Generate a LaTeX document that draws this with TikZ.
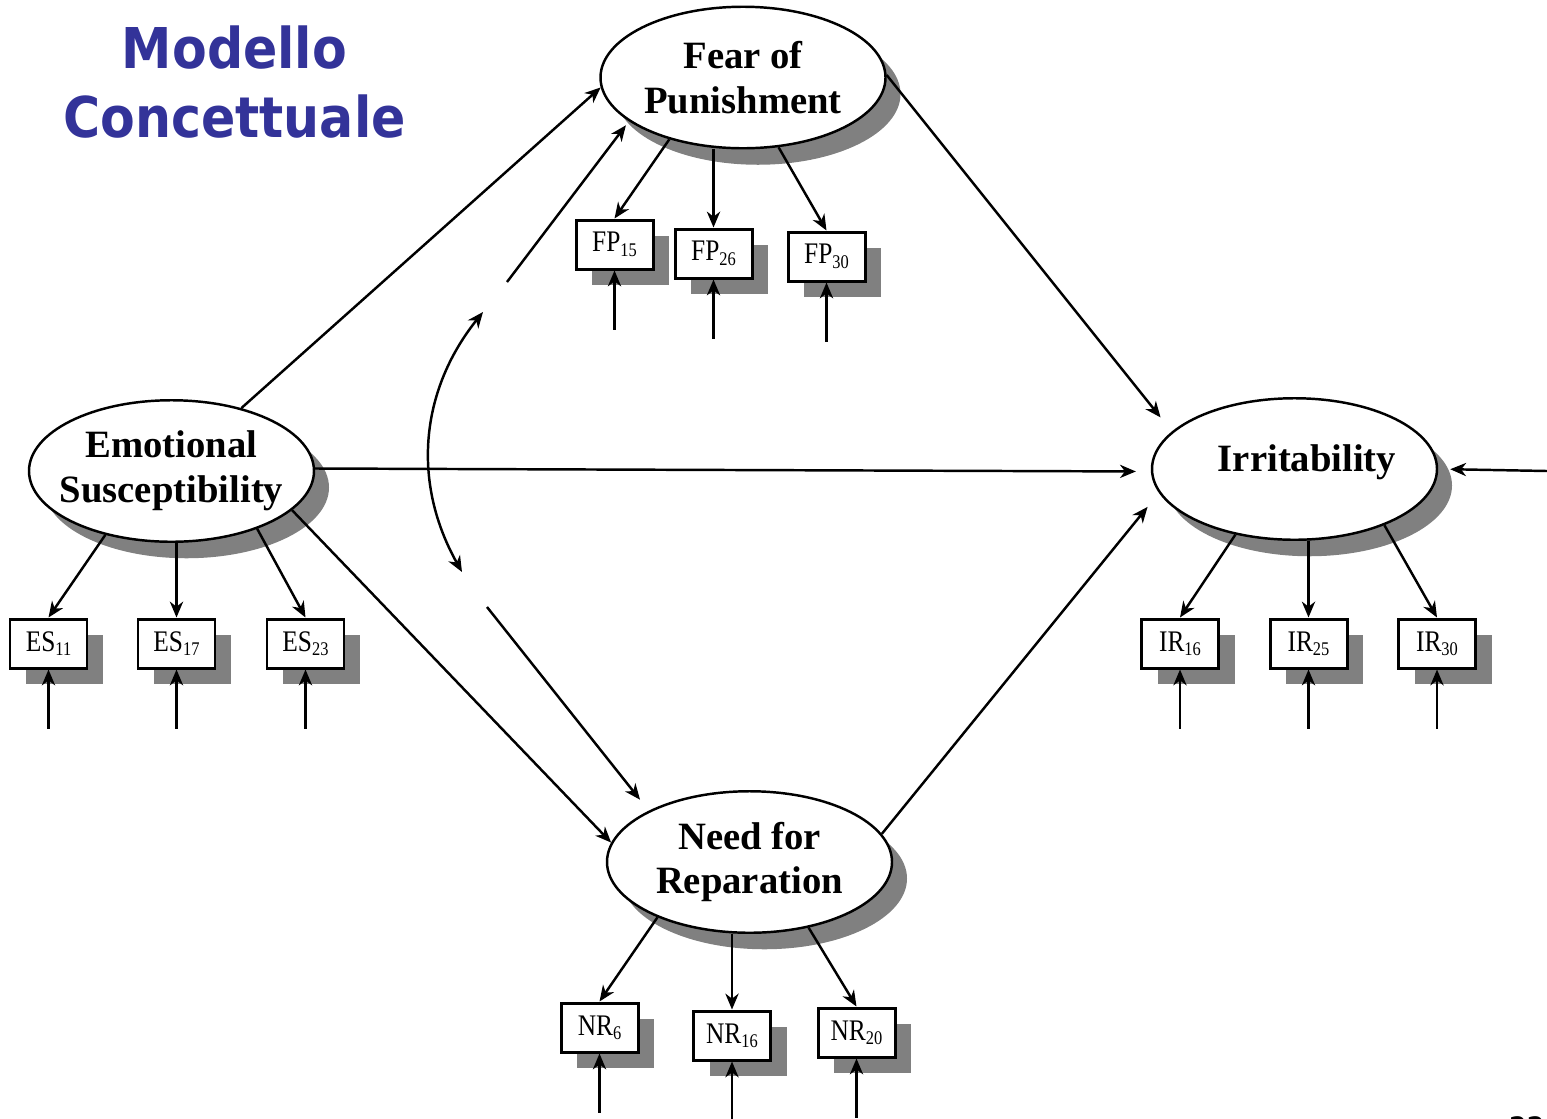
\documentclass[tikz,border=0pt]{standalone}
\usepackage{fontspec}
\setmainfont{Liberation Serif}
\newfontfamily\titlefont[FakeStretch=0.9]{DejaVu Sans}
\newfontfamily\itemfont[FakeStretch=0.85]{Liberation Serif}
\usepackage{tikz}
\usepackage{xcolor}
\definecolor{semTitle}{HTML}{333399}
\definecolor{semShadow}{HTML}{808080}
\usetikzlibrary{shapes.geometric,shadows,arrows.meta}

\newcommand{\semItem}[2]{{\itemfont\fontsize{17}{20}\selectfont #1\raisebox{-2.5pt}{\fontsize{11}{12}\selectfont #2}}}

\tikzset{
  latent/.style={ellipse, draw, line width=1.4pt, fill=white, minimum width=5.7cm, minimum height=2.83cm,
    inner xsep=-0.3cm, inner ysep=0pt, align=center, font=\fontsize{22}{25.5}\selectfont\bfseries,
    drop shadow={shadow xshift=0.3cm, shadow yshift=-0.33cm, fill=semShadow, opacity=1}},
  item/.style={rectangle, draw, line width=1.7pt, fill=white, minimum width=1.54cm, minimum height=0.98cm,
    inner sep=0pt, drop shadow={shadow xshift=0.32cm, shadow yshift=-0.31cm, fill=semShadow, opacity=1}},
}

\begin{document}
\begin{tikzpicture}[>={Stealth[length=9pt,width=7.5pt,inset=2.8pt]}, semLine/.style={line width=1.4pt}]
  \useasboundingbox (0,0) rectangle (30.94,-22.36);
  \node[font=\titlefont\bfseries\fontsize{32}{39}\selectfont, text=semTitle, align=center] (title) at (4.69,-1.64) {Modello\\Concettuale};

  % latent variables
  \node[latent] (ES) at (3.43,-9.42) {Emotional\\Susceptibility};
  \node[latent] (FP) at (14.86,-1.55) {Fear of\\Punishment};
  \node[latent] (IR) at (25.89,-9.38) {\hspace{0.5cm}Irritability\\[-0.45cm]};
  \node[latent] (NR) at (14.99,-17.24) {Need for\\Reparation};

  % indicators
  \node[item] (ES11) at (0.97,-12.87) {\semItem{ES}{11}};
  \node[item] (ES17) at (3.53,-12.87) {\semItem{ES}{17}};
  \node[item] (ES23) at (6.11,-12.87) {\semItem{ES}{23}};
  \node[item] (FP15) at (12.29,-4.89) {\semItem{FP}{15}};
  \node[item] (FP26) at (14.27,-5.07) {\semItem{FP}{26}};
  \node[item] (FP30) at (16.53,-5.13) {\semItem{FP}{30}};
  \node[item] (NR6) at (11.99,-20.55) {\semItem{NR}{6}};
  \node[item] (NR16) at (14.64,-20.71) {\semItem{NR}{16}};
  \node[item] (NR20) at (17.13,-20.65) {\semItem{NR}{20}};
  \node[item] (IR16) at (23.60,-12.87) {\semItem{IR}{16}};
  \node[item] (IR25) at (26.17,-12.87) {\semItem{IR}{25}};
  \node[item] (IR30) at (28.74,-12.87) {\semItem{IR}{30}};

  % free ends
  \coordinate (fpIn) at (10.14,-5.64);
  \coordinate (nrIn) at (9.74,-12.14);
  \coordinate (covTop) at (9.66,-6.24);
  \coordinate (covBot) at (9.24,-11.44);
  \coordinate (irErr) at (30.94,-9.42);

  % structural paths
  \draw[->, semLine] (ES.42) -- (FP.184);
  \draw[->, semLine] (ES.-18) -- (NR.172);
  \draw[->, semLine, shorten >=0.3cm] (ES.1) -- (IR.181);
  \draw[->, semLine, shorten >=0.36cm] (FP.1) -- (IR.163);
  \draw[->, semLine, shorten >=0.36cm] (NR.12) -- (IR.190);
  \draw[->, semLine, shorten >=0.1cm] (fpIn) -- (FP.201);
  \draw[->, semLine, shorten >=0.28cm] (nrIn) -- (NR.153);
  \draw[<->, semLine] (covTop) to[bend right=34] (covBot);
  \draw[->, semLine, shorten >=0.24cm] (irErr) -- (IR.east);

  % loadings
  \draw[->, semLine] (ES.224) -- (ES11.north);
  \draw[->, semLine] (ES17.north |- ES.south) -- (ES17.north);
  \draw[->, semLine] (ES.-34) -- (ES23.north);
  \draw[->, semLine] (FP.220) -- (FP15.north);
  \draw[->, semLine] (FP26.north |- FP.south) -- (FP26.north);
  \draw[->, semLine] (FP.-63) -- (FP30.north);
  \draw[->, semLine] (NR.211) -- (NR6.north);
  \draw[->, semLine] (NR16.north |- NR.south) -- (NR16.north);
  \draw[->, semLine] (NR.-48) -- (NR20.north);
  \draw[->, semLine] (IR.228) -- (IR16.north);
  \draw[->, semLine] (IR25.north |- IR.south) -- (IR25.north);
  \draw[->, semLine] (IR.-32) -- (IR30.north);

  % measurement errors
  \foreach \b in {ES11,ES17,ES23,FP15,FP26,FP30,NR6,NR16,NR20,IR16,IR25,IR30}
    \draw[<-, semLine] (\b.south) -- ++(0,-1.18);

  \node[anchor=north west, font=\titlefont\bfseries\fontsize{16}{18}\selectfont] (page) at (30.06,-22.2) {220};
\end{tikzpicture}
\end{document}
